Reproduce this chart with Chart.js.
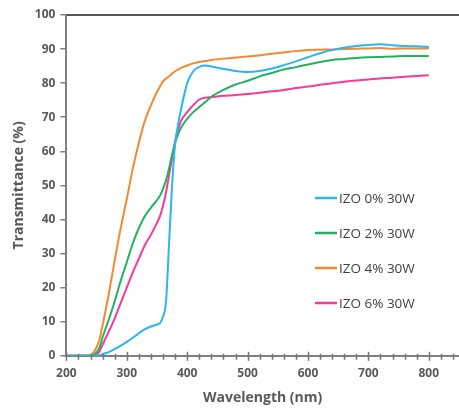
<!DOCTYPE html>
<html><head><meta charset="utf-8">
<script src="https://cdn.jsdelivr.net/npm/chart.js@4"></script>
<style>html,body{margin:0;padding:0;background:#fff}#wrap{width:459px;height:411px}</style>
</head><body><div id="wrap"><canvas id="c"></canvas></div>
<script>
const wavelength = [200,220,240,245,250,255,260,270,280,290,300,310,320,330,340,350,355,360,365,370,375,380,385,390,400,410,420,430,440,460,480,500,520,540,560,580,600,620,640,660,680,700,720,740,760,780,800];
const izo0 = [0,0,0,0,0,0.2,0.5,1.1,2,3,4.1,5.3,6.6,7.8,8.6,9.2,9.6,11.5,16,33,50,62,68,72.5,80,83.5,84.8,85.2,84.9,84.2,83.6,83.3,83.6,84.3,85.3,86.4,87.6,88.8,89.7,90.4,90.9,91.2,91.4,91.1,90.9,90.8,90.6];
const izo2 = [0,0,0,0.3,1,2.5,5.5,10.5,16,22,27.5,33,37.5,41,43.5,45.7,47,49,51.5,55,59,62.5,65,67,69.5,71.5,73,74.5,76,78,79.6,80.7,82,83,84,84.7,85.5,86.2,86.8,87.1,87.4,87.6,87.7,87.8,88,88,88];
const izo4 = [0,0,0.3,1,2.5,5,9,18,28,37.5,46,55,62.5,69,73.5,77.5,79,80.5,81.3,82,82.8,83.5,84,84.5,85.2,85.8,86.2,86.5,86.8,87.2,87.5,87.8,88.2,88.6,89,89.4,89.7,89.8,89.9,90,90.1,90.2,90.3,90.1,90.2,90.2,90.2];
const izo6 = [0,0,0,0,0.5,1.3,3.3,7,11,15.5,20,24.5,28.5,32.5,35.5,39,41,44,48,53,58,63,66.5,69,71.5,73.5,75.2,75.7,75.9,76.3,76.5,76.8,77.2,77.6,78,78.6,79,79.5,80,80.4,80.8,81.1,81.4,81.6,81.9,82.1,82.3];
const seriesLabels = ['IZO 0% 30W','IZO 2% 30W','IZO 4% 30W','IZO 6% 30W'];
const seriesValues = [izo0, izo2, izo4, izo6];
const seriesColors = ['#29b6f2','#22b35e','#f28a2f','#f7399b'];
const xTickValues = [200,300,400,500,600,700,800];
const yTickValues = [0,10,20,30,40,50,60,70,80,90,100];

const datasets = seriesValues.map((vals,i)=>({
  label: seriesLabels[i],
  data: wavelength.map((w,j)=>({x:w,y:vals[j]})),
  borderColor: seriesColors[i],
  borderWidth: 2,
  pointRadius: 0,
  cubicInterpolationMode: 'monotone',
  fill: false
}));

const extras = {
  id: 'extras',
  afterDraw(chart){
    const ctx = chart.ctx, xs = chart.scales.x, ys = chart.scales.y, a = chart.chartArea;
    ctx.save();
    ctx.strokeStyle = '#555'; ctx.lineWidth = 2;
    ctx.beginPath(); ctx.moveTo(a.left, a.top); ctx.lineTo(a.right, a.top); ctx.stroke();
    ctx.strokeStyle = '#777'; ctx.lineWidth = 1.5;
    const y0 = ys.getPixelForValue(0);
    for (let v = 200; v <= xs.max; v += 20) {
      const px = Math.round(xs.getPixelForValue(v)) + 0.5;
      const major = v % 100 === 0;
      ctx.beginPath();
      ctx.moveTo(px, y0 - (major ? 4 : 2));
      ctx.lineTo(px, y0 + (major ? 5 : 4));
      ctx.stroke();
    }
    ctx.font = '13.5px "Open Sans", sans-serif';
    ctx.textBaseline = 'middle';
    ctx.fillStyle = '#404040';
    const lx = 315, ly = 198, step = 35;
    seriesLabels.forEach((lab,i)=>{
      const yy = ly + i*step;
      ctx.strokeStyle = seriesColors[i]; ctx.lineWidth = 2.5;
      ctx.beginPath(); ctx.moveTo(lx, yy); ctx.lineTo(lx+22, yy); ctx.stroke();
      ctx.fillText(lab, lx+24, yy+1);
    });
    ctx.restore();
  }
};

new Chart(document.getElementById('c'), {
  type: 'line',
  data: { datasets },
  plugins: [extras],
  options: {
    responsive: true, maintainAspectRatio: false, animation: false,
    layout: { padding: { top: 15, right: 0, bottom: 5, left: 11 } },
    plugins: { legend: { display: false }, tooltip: { enabled: false } },
    scales: {
      x: {
        type: 'linear', min: 200, max: 850,
        afterBuildTicks(s){ s.ticks = xTickValues.map(v=>({value:v})); },
        grid: { drawOnChartArea: false, drawTicks: false },
        border: { display: true, color: '#808080', width: 2 },
        ticks: { padding: 11, color: '#595959', font: { family: '"Open Sans", sans-serif', size: 12, weight: 'bold' }, maxRotation: 0, autoSkip: false },
        title: { display: true, text: 'Wavelength (nm)', color: '#595959', font: { family: '"Open Sans", sans-serif', size: 14, weight: 'bold' }, padding: { top: -3, bottom: 0 } }
      },
      y: {
        min: 0, max: 100,
        afterBuildTicks(s){ s.ticks = yTickValues.map(v=>({value:v})); },
        grid: { drawOnChartArea: false, drawTicks: true, tickLength: 6, color: '#808080', lineWidth: 1.5 },
        border: { display: true, color: '#808080', width: 2 },
        ticks: { padding: 5, color: '#595959', font: { family: '"Open Sans", sans-serif', size: 12, weight: 'bold' } },
        title: { display: true, text: 'Transmittance (%)', color: '#595959', font: { family: '"Open Sans", sans-serif', size: 14, weight: 'bold' }, padding: { top: 0, bottom: 2 } }
      }
    }
  }
});
</script></body></html>
